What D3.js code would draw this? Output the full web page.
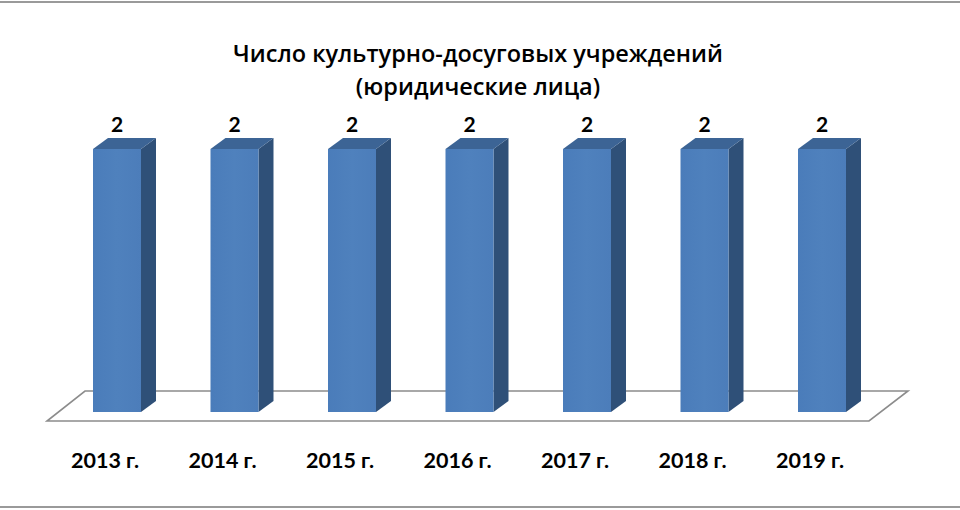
<!DOCTYPE html>
<html><head><meta charset="utf-8">
<script src="https://cdn.jsdelivr.net/npm/d3@7"></script>
<style>body{margin:0;background:#fff}svg{display:block}</style>
</head><body>
<svg id="c" width="960" height="510"></svg>
<script>
const categories = ["2013 г.","2014 г.","2015 г.","2016 г.","2017 г.","2018 г.","2019 г."];
const values = [2,2,2,2,2,2,2];
const titleLines = ["Число культурно-досуговых учреждений","(юридические лица)"];

const svg = d3.select("#c");
const W = 960, H = 510;
const font = "Lato, 'Open Sans', sans-serif";
const tfont = "'Open Sans', Lato, sans-serif";

// frame lines
svg.append("rect").attr("x",0).attr("y",1).attr("width",W).attr("height",2).attr("fill","#9a9a9a");
svg.append("rect").attr("x",0).attr("y",506).attr("width",W).attr("height",2).attr("fill","#9a9a9a");

// title
svg.append("text").attr("x",478).attr("y",62).attr("text-anchor","middle")
  .attr("font-family",tfont).attr("font-weight",600).attr("font-size",23.5).attr("fill","#000")
  .text(titleLines[0]);
svg.append("text").attr("x",478).attr("y",95).attr("text-anchor","middle")
  .attr("font-family",tfont).attr("font-weight",600).attr("font-size",23.5).attr("fill","#000")
  .text(titleLines[1]);

const x = d3.scaleBand().domain(categories).range([34.25, 904.75]).paddingInner(0.5915).paddingOuter(0.5);
const y = d3.scaleLinear().domain([0, 2]).range([412, 149]);
const dx = 15, dy = -11;

// floor
const floor = [[47,421],[869,421],[908,391],[85,391]];
svg.append("path").attr("d", d3.line()(floor) + "Z")
  .attr("fill","#fff").attr("stroke","#8c8c8c").attr("stroke-width",1.6);

const defs = svg.append("defs");
const gf = defs.append("linearGradient").attr("id","gf").attr("x1",0).attr("x2",1).attr("y1",0).attr("y2",0);
gf.append("stop").attr("offset",0).attr("stop-color","#4a7cba");
gf.append("stop").attr("offset",0.5).attr("stop-color","#4f81bd");
gf.append("stop").attr("offset",1).attr("stop-color","#4c7dba");

const g = svg.append("g");
categories.forEach((c,i)=>{
  const x0 = x(c), x1 = x0 + x.bandwidth();
  const yt = y(values[i]), yb = y(0);
  g.append("path").attr("d", d3.line()([[x1,yt],[x1+dx,yt+dy],[x1+dx,yb+dy],[x1,yb]])+"Z")
    .attr("fill","#2f5078");
  g.append("path").attr("d", d3.line()([[x0,yt],[x0+dx,yt+dy],[x1+dx,yt+dy],[x1,yt]])+"Z")
    .attr("fill","#3c6495");
  g.append("rect").attr("x",x0).attr("y",yt).attr("width",x.bandwidth()).attr("height",yb-yt)
    .attr("fill","url(#gf)");
  g.append("text").attr("x",(x0+x1)/2).attr("y",yt-17).attr("text-anchor","middle")
    .attr("font-family",font).attr("font-weight","bold").attr("font-size",21).attr("fill","#000")
    .text(values[i]);
  g.append("text").attr("x",(x0+x1)/2-12).attr("y",468).attr("text-anchor","middle")
    .attr("font-family",font).attr("font-weight","bold").attr("font-size",21.5).attr("fill","#000")
    .text(c);
});
</script>
</body></html>
